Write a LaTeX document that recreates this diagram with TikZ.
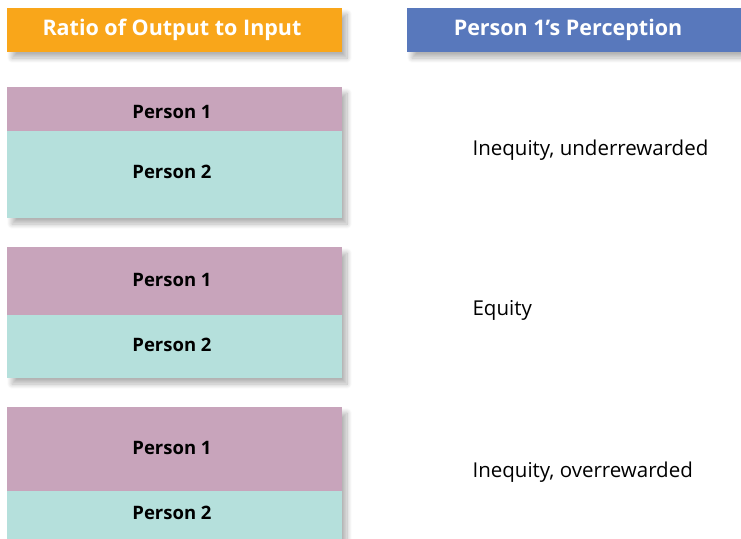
\documentclass[tikz,border=0pt]{standalone}
\usepackage{fontspec}
\setmainfont{Open Sans}
\usetikzlibrary{shadows.blur}
\definecolor{hdrorange}{HTML}{F9A61A}
\definecolor{hdrblue}{HTML}{5878BC}
\definecolor{pinkbox}{HTML}{C8A4BB}
\definecolor{tealbox}{HTML}{B5E0DC}
\begin{document}
\begin{tikzpicture}[x=1pt,y=-1pt,
  shade/.style={blur shadow={shadow xshift=5pt,shadow yshift=-6pt,shadow blur steps=10,shadow blur radius=5pt,shadow opacity=30}},
  hdr/.style={draw=none,text=white,font=\fontsize{21.5}{24}\selectfont\bfseries},
  pers/.style={font=\fontsize{18.5}{22}\selectfont\bfseries,text=black},
  lbl/.style={anchor=west,font=\fontsize{20.5}{24}\selectfont,text=black}]
\useasboundingbox (0,0) rectangle (741,538);
% headers
\fill[hdrorange,shade] (7,8) rectangle (342,52);
\node[hdr] (h1) at (172,30) {Ratio of Output to Input};
\fill[hdrblue,shade] (407,8) rectangle (745,52);
\node[hdr] (h2) at (568,30) {Person 1’s Perception};
% group 1
\fill[white,shade] (7,87) rectangle (342,218);
\fill[pinkbox] (7,87) rectangle (342,131);
\fill[tealbox] (7,131) rectangle (342,218);
\node[pers] (a1) at (172,112) {Person 1};
\node[pers] (a2) at (172,172) {Person 2};
\node[lbl] (l1) at (469,150) {Inequity, underrewarded};
% group 2
\fill[white,shade] (7,247) rectangle (342,378);
\fill[pinkbox] (7,247) rectangle (342,315);
\fill[tealbox] (7,315) rectangle (342,378);
\node[pers] (b1) at (172,280) {Person 1};
\node[pers] (b2) at (172,345) {Person 2};
\node[lbl] (l2) at (469,310) {Equity};
% group 3
\fill[white,shade] (7,407) rectangle (342,545);
\fill[pinkbox] (7,407) rectangle (342,491);
\fill[tealbox] (7,491) rectangle (342,545);
\node[pers] (c1) at (172,448) {Person 1};
\node[pers] (c2) at (172,513) {Person 2};
\node[lbl] (l3) at (469,472) {Inequity, overrewarded};
\end{tikzpicture}
\end{document}
